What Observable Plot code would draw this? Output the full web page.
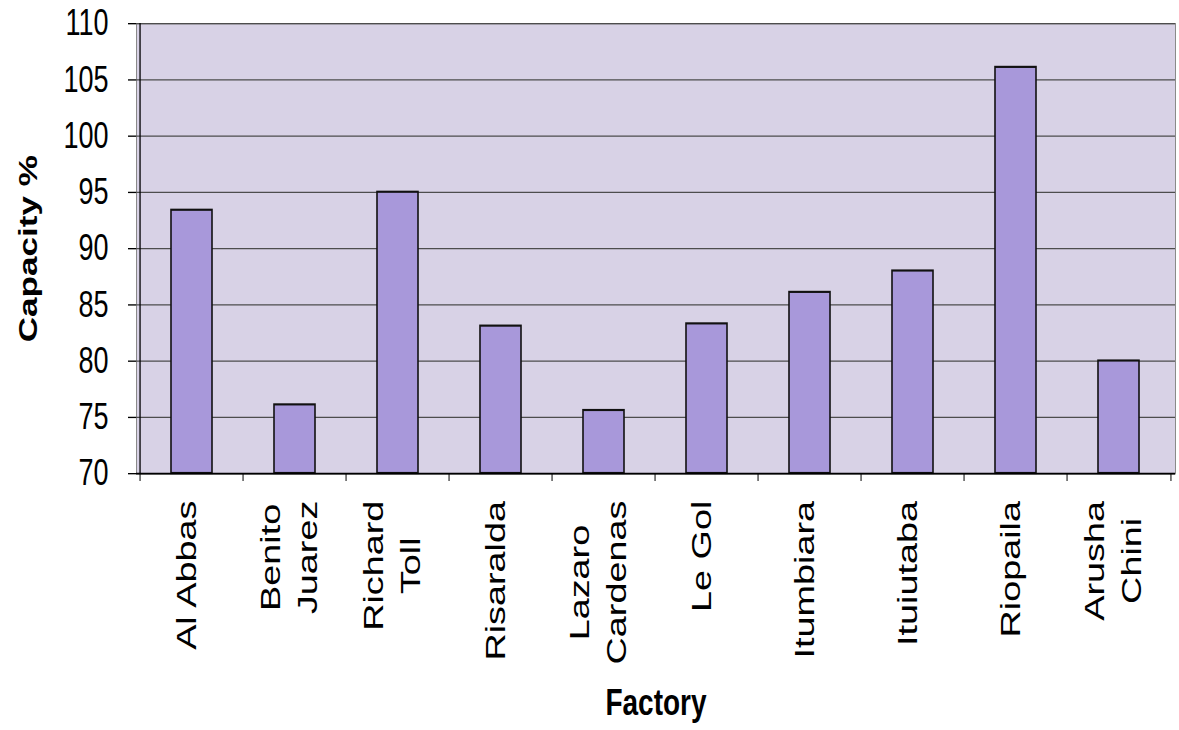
<!DOCTYPE html>
<html><head><meta charset="utf-8">
<script src="https://cdn.jsdelivr.net/npm/d3@7"></script>
<script src="https://cdn.jsdelivr.net/npm/@observablehq/plot@0.6"></script>
<style>
body{margin:0;background:#fff}
#chart svg{display:block}
</style>
</head><body><div id="chart"></div>
<script>
const factories = ["Al Abbas","Benito\nJuarez","Richard\nToll","Risaralda","Lazaro\nCardenas","Le Gol","Itumbiara","Ituiutaba","Riopaila","Arusha\nChini"];
const capacity = [93.4, 76.1, 95.0, 83.1, 75.6, 83.3, 86.1, 88.0, 106.1, 80.0];
const yTicks = [70, 75, 80, 85, 90, 95, 100, 105, 110];
const yLabel = "Capacity %";
const xLabel = "Factory";

// The reference scan is stretched vertically; draw in a compressed frame and stretch the SVG.
const K = 1.35;
const W = 1179, OUT_H = 730, H = OUT_H / K;
const mt = 23 / K, mb = H - 473 / K, ml = 136, mr = 4;
const plotH = H - mt - mb;
const step = (W - ml - mr) / factories.length;
const data = factories.map((f, i) => ({factory: f, capacity: capacity[i]}));

const chart = Plot.plot({
  width: W, height: H,
  marginTop: mt, marginBottom: mb, marginLeft: ml, marginRight: mr,
  style: {fontFamily: "'Liberation Sans', Arial, sans-serif", background: "white", color: "black"},
  x: {domain: factories, paddingInner: 0.6, paddingOuter: 0.3, label: null},
  y: {domain: [70, 110], label: null},
  marks: [
    Plot.frame({fill: "#d8d2e6", stroke: "#8a8a8a"}),
    Plot.gridY(yTicks, {stroke: "#4d4d4d", strokeOpacity: 1, strokeWidth: 1}),
    Plot.barY(data, {x: "factory", y1: 70, y2: "capacity", fill: "#a898da", stroke: "#111", strokeWidth: 1.6}),
    Plot.ruleX([factories[0]], {dx: -step / 2, stroke: "black", strokeWidth: 1.3}),
    Plot.ruleY([70], {stroke: "black", strokeWidth: 1.3}),
    Plot.ruleX(factories, {dx: -step / 2, insetTop: plotH, insetBottom: -6, stroke: "black"}),
    Plot.ruleX([factories[factories.length - 1]], {dx: step / 2, insetTop: plotH, insetBottom: -6, stroke: "black"}),
    Plot.axisY(yTicks, {tickSize: 8, tickPadding: 20, fontSize: 27, label: null}),
    Plot.axisX({tickSize: 0, tickRotate: -90, tickPadding: 20, dx: -8, fontSize: 28, lineHeight: 1.3, label: null}),
    Plot.text([yLabel], {frameAnchor: "left", textAnchor: "middle", dx: -108, rotate: -90, fontSize: 26, fontWeight: "bold"}),
    Plot.text([xLabel], {frameAnchor: "bottom", textAnchor: "middle", dy: 169.6, lineAnchor: "middle", fontSize: 28, fontWeight: "bold"})
  ]
});
chart.setAttribute("height", OUT_H);
chart.setAttribute("viewBox", `0 0 ${W} ${H}`);
chart.setAttribute("preserveAspectRatio", "none");
chart.style.height = OUT_H + "px";
document.getElementById("chart").appendChild(chart);

// Centre the lines of each multi-line factory label on one another, block top kept at the axis side.
chart.querySelectorAll('g[aria-label="x-axis tick label"] text').forEach((t) => {
  const w = t.getBBox().width;
  t.setAttribute("text-anchor", "middle");
  t.setAttribute("transform", (t.getAttribute("transform") || "") + ` translate(${-w / 2},0)`);
});
</script>
</body></html>
